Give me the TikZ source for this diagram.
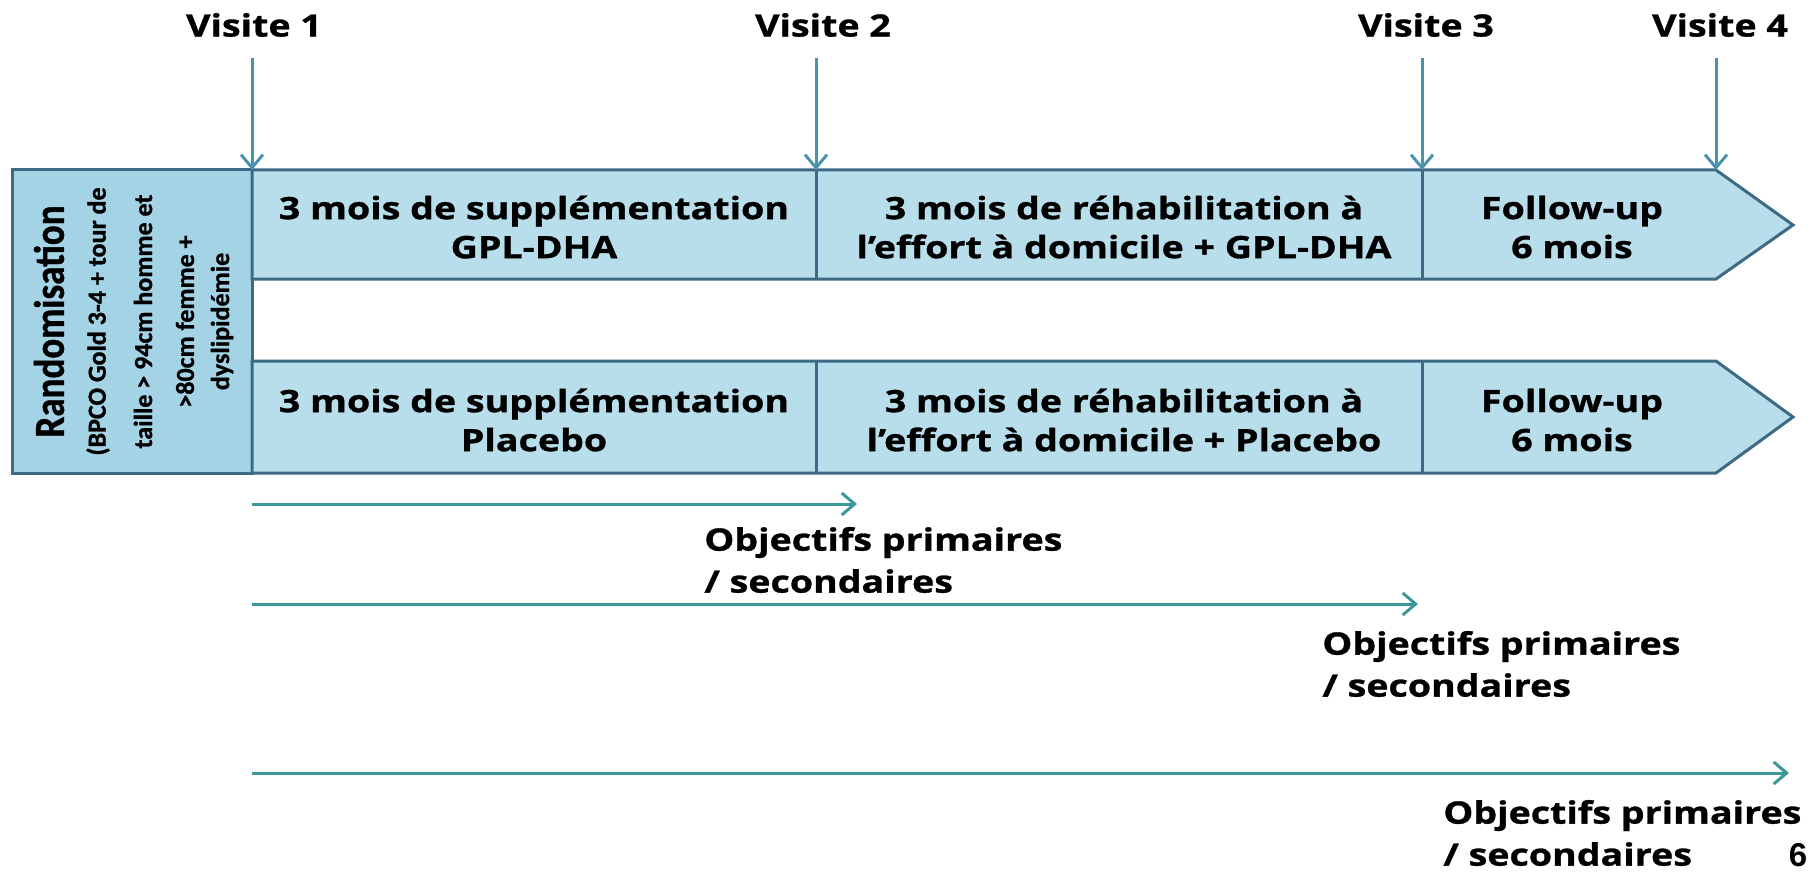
\documentclass[tikz,border=0pt]{standalone}
\usepackage{fontspec}
\setmainfont{Open Sans}[FakeStretch=1.22, BoldFeatures={FakeBold=1}]
\newfontfamily\narrowfont{Carlito}[BoldFeatures={FakeBold=1}]
\newfontfamily\numfont{Liberation Sans}
\usetikzlibrary{arrows.meta}

\definecolor{rowfill}{HTML}{B9DEEB}
\definecolor{randfill}{HTML}{A3D3E5}
\definecolor{edge}{HTML}{3F6A85}
\definecolor{visitblue}{HTML}{4A93B0}
\definecolor{objteal}{HTML}{3C9799}

\tikzset{
  rowshape/.style={fill=rowfill, draw=edge, line width=1.5pt, line join=miter},
  randshape/.style={fill=randfill, draw=edge, line width=1.5pt},
  divider/.style={draw=edge, line width=1.5pt},
  rowtext/.style={align=center, inner sep=0pt, font=\bfseries\fontsize{15.4}{19.5}\selectfont},
  visitlabel/.style={inner sep=0pt, font=\bfseries\fontsize{15.4}{19.5}\selectfont},
  objlabel/.style={align=left, inner sep=0pt, anchor=west, font=\bfseries\fontsize{15.4}{21}\selectfont},
  randtitle/.style={rotate=90, inner sep=0pt, font=\narrowfont\bfseries\fontsize{18.5}{20}\selectfont},
  randline/.style={rotate=90, inner sep=0pt, font=\narrowfont\bfseries\fontsize{13}{14}\selectfont},
  visitarrow/.style={draw=visitblue, line width=1.5pt, -{Straight Barb[length=6.5pt,width=11pt]}},
  objarrow/.style={draw=objteal, line width=1.5pt, -{Straight Barb[length=6.5pt,width=11pt]}},
}

\begin{document}
\begin{tikzpicture}[x=0.5pt,y=-0.5pt]
\useasboundingbox (0,0) rectangle (1810,872);

% randomisation block
\draw[randshape] (12,170) rectangle (252,473);

% group 1 (GPL-DHA) and group 2 (placebo) bands
\draw[rowshape] (252,170) -- (1716,170) -- (1793,225) -- (1716,279) -- (252,279) -- cycle;
\draw[rowshape] (252,361) -- (1716,361) -- (1793,417) -- (1716,473) -- (252,473) -- cycle;
\draw[divider] (816,170) -- (816,279);
\draw[divider] (1422,170) -- (1422,279);
\draw[divider] (816,361) -- (816,473);
\draw[divider] (1422,361) -- (1422,473);

% randomisation text, read bottom to top
\node[randtitle] (rand) at (49,321.5) {\scalebox{1}[1.15]{Randomisation}};
\node[randline] (crit1) at (98,321.5) {(BPCO Gold 3-4 + tour de};
\node[randline] (crit2) at (143,321.5) {taille > 94cm homme et};
\node[randline] (crit3) at (185,321.5) {>80cm femme +};
\node[randline] (crit4) at (222,321.5) {dyslipidémie};

% phase texts
\node[rowtext] (a1) at (534,227) {3 mois de supplémentation\\GPL-DHA};
\node[rowtext] (a2) at (1124,227) {3 mois de réhabilitation à\\l’effort à domicile + GPL-DHA};
\node[rowtext] (a3) at (1572,227) {Follow-up\\6 mois};
\node[rowtext] (b1) at (534,420) {3 mois de supplémentation\\Placebo};
\node[rowtext] (b2) at (1124,420) {3 mois de réhabilitation à\\l’effort à domicile + Placebo};
\node[rowtext] (b3) at (1572,420) {Follow-up\\6 mois};

% visits
\node[visitlabel] (v1) at (254,25) {Visite 1};
\node[visitlabel] (v2) at (823,25) {Visite 2};
\node[visitlabel] (v3) at (1426,25) {Visite 3};
\node[visitlabel] (v4) at (1720,25) {Visite 4};
\coordinate (v1s) at (252,58);  \coordinate (v1e) at (252,170);
\coordinate (v2s) at (816,58);  \coordinate (v2e) at (816,170);
\coordinate (v3s) at (1422,58); \coordinate (v3e) at (1422,170);
\coordinate (v4s) at (1716,58); \coordinate (v4e) at (1716,170);
\draw[visitarrow] (v1s) -- (v1e);
\draw[visitarrow] (v2s) -- (v2e);
\draw[visitarrow] (v3s) -- (v3e);
\draw[visitarrow] (v4s) -- (v4e);

% evaluation horizons
\coordinate (o1s) at (252,504); \coordinate (o1e) at (857,504);
\coordinate (o2s) at (252,604); \coordinate (o2e) at (1418,604);
\coordinate (o3s) at (252,773); \coordinate (o3e) at (1789,773);
\draw[objarrow] (o1s) -- (o1e);
\draw[objarrow] (o2s) -- (o2e);
\draw[objarrow] (o3s) -- (o3e);
\node[objlabel] (obj1) at (704,560) {Objectifs primaires\\/ secondaires};
\node[objlabel] (obj2) at (1322,664) {Objectifs primaires\\/ secondaires};
\node[objlabel] (obj3) at (1443,833) {Objectifs primaires\\/ secondaires};

% page number
\node[inner sep=0pt, anchor=base, font=\numfont\bfseries\fontsize{16.5}{18}\selectfont] (page) at (1798,866) {6};
\end{tikzpicture}
\end{document}
